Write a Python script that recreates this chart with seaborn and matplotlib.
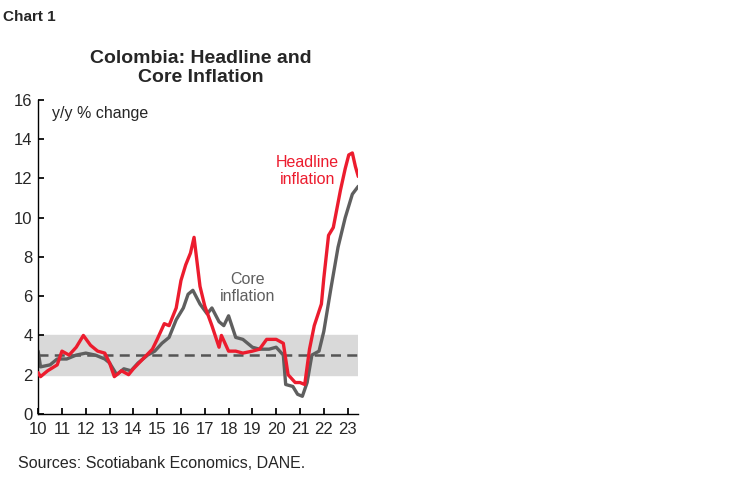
import matplotlib
matplotlib.use("Agg")
import matplotlib.pyplot as plt
import seaborn as sns
import pandas as pd

# headline CPI, y/y %
headline_t = [2010.0, 2010.1, 2010.4, 2010.8, 2011.0, 2011.3, 2011.6, 2011.9, 2012.2, 2012.5,
              2012.8, 2013.0, 2013.2, 2013.5, 2013.8, 2014.0, 2014.4, 2014.8, 2015.0, 2015.3,
              2015.5, 2015.8, 2016.0, 2016.2, 2016.4, 2016.55, 2016.8, 2017.0, 2017.3, 2017.6,
              2017.7, 2018.0, 2018.3, 2018.6, 2019.0, 2019.3, 2019.6, 2020.0, 2020.3, 2020.5,
              2020.8, 2021.0, 2021.2, 2021.4, 2021.6, 2021.9, 2022.0, 2022.2, 2022.4, 2022.7,
              2022.9, 2023.05, 2023.2, 2023.33, 2023.45]
headline = [2.1, 1.9, 2.2, 2.5, 3.2, 3.0, 3.4, 4.0, 3.5, 3.2,
            3.1, 2.6, 1.9, 2.2, 2.0, 2.3, 2.8, 3.3, 3.8, 4.6,
            4.5, 5.4, 6.8, 7.6, 8.2, 9.0, 6.5, 5.5, 4.5, 3.4,
            4.0, 3.2, 3.2, 3.1, 3.2, 3.3, 3.8, 3.8, 3.6, 2.0,
            1.6, 1.6, 1.5, 3.3, 4.5, 5.6, 6.9, 9.1, 9.5, 11.4,
            12.5, 13.2, 13.3, 12.6, 12.1]

# core CPI, y/y %
core_t = [2010.0, 2010.1, 2010.5, 2010.8, 2011.2, 2011.6, 2012.0, 2012.4, 2012.8, 2013.0,
          2013.3, 2013.6, 2013.9, 2014.2, 2014.6, 2014.9, 2015.2, 2015.5, 2015.8, 2016.1,
          2016.3, 2016.5, 2016.8, 2017.1, 2017.3, 2017.6, 2017.8, 2018.0, 2018.3, 2018.6,
          2019.0, 2019.3, 2019.7, 2020.0, 2020.3, 2020.4, 2020.7, 2020.9, 2021.1, 2021.3,
          2021.5, 2021.8, 2022.0, 2022.3, 2022.6, 2022.9, 2023.2, 2023.45]
core = [3.2, 2.4, 2.5, 2.8, 2.8, 3.0, 3.1, 3.0, 2.8, 2.6,
        2.0, 2.3, 2.2, 2.6, 3.0, 3.2, 3.6, 3.9, 4.8, 5.4,
        6.1, 6.3, 5.6, 5.1, 5.4, 4.7, 4.5, 5.0, 3.9, 3.8,
        3.4, 3.3, 3.3, 3.4, 3.0, 1.5, 1.4, 1.0, 0.9, 1.6,
        3.0, 3.2, 4.2, 6.4, 8.5, 10.0, 11.2, 11.6]

years = list(range(2010, 2024))
year_labels = [str(y)[2:] for y in years]
target, band_lo, band_hi = 3, 2, 4

sns.set_theme(style="white")
plt.rcParams['font.family'] = ['Liberation Sans', 'DejaVu Sans']

fig = plt.figure(figsize=(7.48, 4.83), dpi=100)
ax = fig.add_axes([0.051, 0.143, 0.428, 0.65])

ax.axhspan(band_lo, band_hi, color="#d9d9d9", zorder=0)
ax.axhline(target, color="#555555", ls=(0, (4, 2.5)), lw=1.8, zorder=1)

sns.lineplot(data=pd.DataFrame({"t": core_t, "v": core}), x="t", y="v", ax=ax,
             color="#5f5f5f", lw=2.4, zorder=2)
sns.lineplot(data=pd.DataFrame({"t": headline_t, "v": headline}), x="t", y="v", ax=ax,
             color="#ec1c2e", lw=2.4, zorder=3)

ax.set_xlim(2010, 2023.45)
ax.set_ylim(0, 16)
ax.set_xticks(years)
ax.set_xticklabels(year_labels)
ax.set_yticks(range(0, 17, 2))
ax.set_xlabel("")
ax.set_ylabel("")
for s in ["top", "right"]:
    ax.spines[s].set_visible(False)
for s in ["left", "bottom"]:
    ax.spines[s].set_color("black")
    ax.spines[s].set_linewidth(1)
ax.tick_params(axis="both", labelsize=12, length=4, direction="in", color="black",
               bottom=True, left=True, pad=4)
ax.tick_params(axis="x", pad=6)

ax.text(2010.6, 15.3, "y/y % change", fontsize=11.5, va="center")
ax.text(2021.3, 12.4, "Headline\ninflation", color="#ec1c2e", fontsize=11.5,
        ha="center", va="center", linespacing=1.15)
ax.text(2018.8, 6.4, "Core\ninflation", color="#5f5f5f", fontsize=11.5,
        ha="center", va="center", linespacing=1.15)

fig.text(0.004, 0.965, "Chart 1", fontsize=11, fontweight="bold", va="center")
fig.text(0.268, 0.859, "Colombia: Headline and\nCore Inflation", fontsize=14,
         fontweight="bold", ha="center", va="center", linespacing=1.1)
fig.text(0.024, 0.04, "Sources: Scotiabank Economics, DANE.", fontsize=11.5, va="center")

fig.savefig("out.png", dpi=100)
